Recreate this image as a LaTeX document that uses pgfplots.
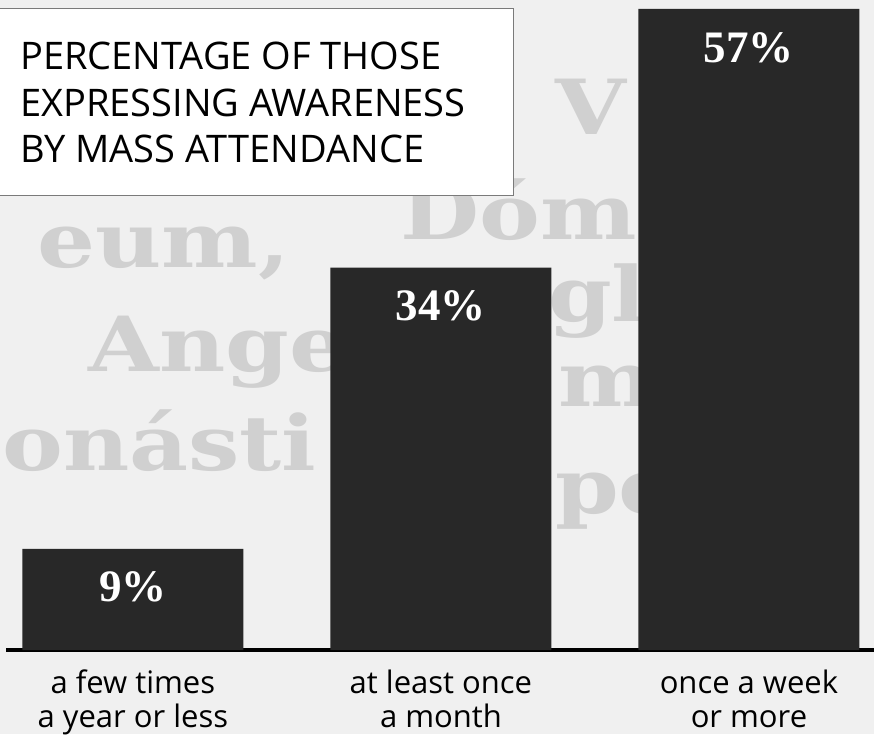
\documentclass[border=0pt]{standalone}
\usepackage{fontspec}
\setmainfont{Open Sans}
\newfontfamily\valfont{Liberation Serif}
\newfontfamily\bgfont{DejaVu Serif}
\usepackage{pgfplots}
\pgfplotsset{compat=1.18}
\definecolor{barcol}{HTML}{282828}
\definecolor{bgcol}{HTML}{F0F0F0}
\definecolor{bgtext}{HTML}{D0D0D0}
\definecolor{boxline}{HTML}{7A7A7A}
\begin{document}
\begin{tikzpicture}[x=1pt,y=1pt,
    bgw/.style={font=\bgfont\bfseries\fontsize{76}{76}\selectfont, text=bgtext,
        anchor=base west, inner sep=0pt, xscale=1.2}]
% background (photographed Latin text, faint)
\fill[bgcol] (0,0) rectangle (874,734);
\node[bgw] at (37,466) {eum,};
\node[bgw] at (400,494) {Dóm};
\node[bgw] at (555,599) {V};
\node[bgw] at (88,362) {Ange};
\node[bgw] at (548,412) {gl};
\node[bgw] at (2,264) {onásti};
\node[bgw] at (558,327) {m};
\node[bgw] at (555,221) {pe};
\begin{axis}[
    at={(6pt,84pt)}, anchor=south west,
    scale only axis, width=868pt, height=650pt,
    xmin=-0.412, xmax=2.406, ymin=0, ymax=57.80,
    axis x line*=bottom, axis y line=none,
    x axis line style={line width=4pt,-},
    ytick=\empty,
    xtick={0,1,2}, major tick length=0pt,
    xticklabels={{a few times\\a year or less},{at least once\\a month},{once a week\\or more}},
    xticklabel style={align=center, anchor=north, inner sep=0pt, yshift=-20pt,
        font=\fontsize{31}{34}\selectfont},
    ybar, bar width=221pt,
    clip=false,
]
\addplot[fill=barcol, draw=none,
    nodes near coords={\pgfmathprintnumber[assume math mode=true]{\pgfplotspointmeta}\%},
    every node near coord/.append style={anchor=center, yshift=-38.5pt, text=white,
        font=\valfont\bfseries\fontsize{45}{45}\selectfont}]
    coordinates {(0,9) (1,34) (2,57)};
\end{axis}
% title box
\filldraw[fill=white, draw=boxline, line width=1pt] (-2,538) rectangle (513,725);
\node[anchor=base west, inner sep=0pt, font=\fontsize{38}{38}\selectfont] at (20,664) {PERCENTAGE OF THOSE};
\node[anchor=base west, inner sep=0pt, font=\fontsize{38}{38}\selectfont] at (20,617) {EXPRESSING AWARENESS};
\node[anchor=base west, inner sep=0pt, font=\fontsize{38}{38}\selectfont] at (20,571) {BY MASS ATTENDANCE};
\pgfresetboundingbox
\useasboundingbox (0,0) rectangle (874,734);
\end{tikzpicture}
\end{document}
